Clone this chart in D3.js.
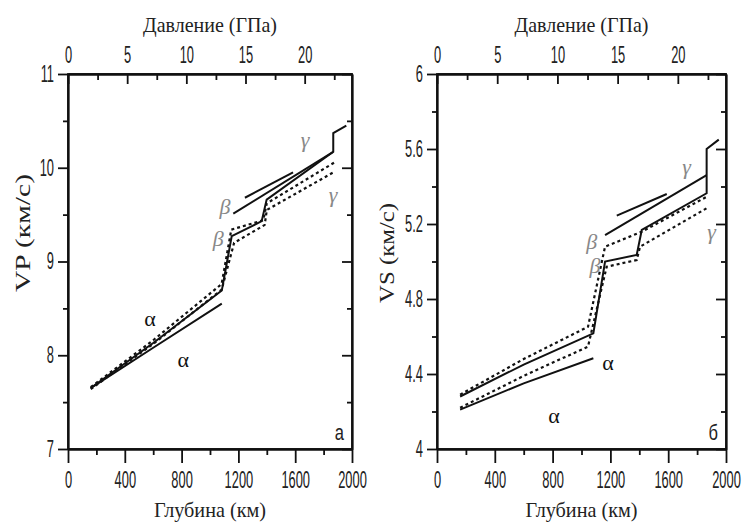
<!DOCTYPE html>
<html>
<head>
<meta charset="utf-8">
<script src="https://cdn.jsdelivr.net/npm/d3@7"></script>
<style>
  body { margin: 0; background: #fff; }
  .tick text { font-family: "Liberation Sans", Arial, sans-serif; font-size: 23px; fill: #222; }
  .axis path, .axis line { stroke: #111; stroke-width: 1.8; }
  .title { font-family: "Liberation Serif", serif; font-size: 21px; fill: #222; }
  .greek { font-family: "Liberation Serif", serif; font-size: 22px; }
</style>
</head>
<body>
<svg id="chart" width="745" height="526"></svg>
<script>
// tick values
const depthTicks = [0, 400, 800, 1200, 1600, 2000];
const depthMinor = [200, 600, 1000, 1400, 1800];
const pressureTicks = [0, 5, 10, 15, 20];
const pressureMinor = [2.5, 7.5, 12.5, 17.5, 22.5];
const vpTicks = [7, 8, 9, 10, 11];
const vpMinor = [7.5, 8.5, 9.5, 10.5];
const vsTicks = [4, 4.4, 4.8, 5.2, 5.6, 6];
const vsMinor = [4.2, 4.6, 5.0, 5.4, 5.8];

// panel a : Vp, [depth km, km/s]
const vpMain = [[160,7.65],[600,8.13],[1083,8.69],[1153,9.27],[1364,9.43],[1399,9.66],[1868,10.17],[1868,10.37],[1960,10.45]];
const vpAlphaLow = [[160,7.65],[600,8.08],[1083,8.55]];
const vpDotUp = [[160,7.66],[600,8.16],[1082,8.76],[1150,9.34],[1375,9.44],[1400,9.62],[1880,10.06]];
const vpDotLow = [[160,7.64],[600,8.12],[1082,8.70],[1170,9.20],[1385,9.39],[1400,9.55],[1880,9.96]];
const vpBetaLong = [[1164,9.51],[1868,10.17]];
const vpBetaShort = [[1246,9.68],[1585,9.95]];

// panel б : Vs
const vsMain = [[160,4.28],[600,4.45],[1082,4.617],[1163,5.0],[1382,5.035],[1417,5.168],[1866,5.364],[1866,5.6],[1950,5.65]];
const vsAlphaLow = [[160,4.21],[600,4.35],[1082,4.484]];
const vsDotUp = [[160,4.29],[600,4.48],[1045,4.652],[1163,5.079],[1417,5.159],[1866,5.345]];
const vsDotLow = [[160,4.22],[600,4.39],[1045,4.546],[1174,4.972],[1382,5.008],[1405,5.079],[1866,5.284]];
const vsBetaLong = [[1163,5.141],[1866,5.461]];
const vsBetaShort = [[1244,5.245],[1590,5.36]];

// greek labels [depth, value]
const vpLabels = [["α",577,8.39],["α",812,7.95],["β",1106,9.585],["β",1058,9.25],["γ",1669,10.30],["γ",1866,9.71]];
const vsLabels = [["α",1183,4.46],["α",810,4.18],["β",1071,5.105],["β",1093,4.98],["γ",1728,5.506],["γ",1901,5.159]];

const svg = d3.select("#chart");
const narrow = 0.56;

function squeeze(sel, x){
    sel.selectAll("text").attr("transform",`scale(${narrow},1)`);
    if(x != undefined) sel.selectAll("text").attr("x", x/narrow);
}

function drawPanel(cfg){
    const x = d3.scaleLinear().domain([0,2000]).range([cfg.x0, cfg.x1]);
    const xp = d3.scaleLinear().domain([0,24]).range([cfg.x0, cfg.x1]);
    const y = d3.scaleLinear().domain(cfg.yDomain).range([449, 74]);
    const g = svg.append("g");

    // bottom depth axis
    g.append("g").attr("class","axis").attr("transform",`translate(0,449)`)
        .call(d3.axisBottom(x).tickValues(depthTicks).tickSize(14).tickSizeOuter(0).tickPadding(9).tickFormat(d3.format("d")))
        .call(squeeze);
    g.append("g").attr("class","axis").attr("transform",`translate(0,449)`)
        .call(d3.axisBottom(x).tickValues(depthMinor).tickSize(6).tickSizeOuter(0).tickFormat(""));

    // top pressure axis, ticks inside
    g.append("g").attr("class","axis").attr("transform",`translate(0,74)`)
        .call(d3.axisTop(xp).tickValues(pressureTicks).tickSize(-10).tickSizeOuter(0).tickPadding(11))
        .call(squeeze);
    g.append("g").attr("class","axis").attr("transform",`translate(0,74)`)
        .call(d3.axisTop(xp).tickValues(pressureMinor).tickSize(-6).tickSizeOuter(0).tickFormat(""));

    // left velocity axis
    g.append("g").attr("class","axis").attr("transform",`translate(${cfg.x0},0)`)
        .call(d3.axisLeft(y).tickValues(cfg.ticks).tickSize(10).tickSizeOuter(0).tickFormat(d3.format("~g")))
        .call(squeeze, -14);
    g.append("g").attr("class","axis").attr("transform",`translate(${cfg.x0},0)`)
        .call(d3.axisLeft(y).tickValues(cfg.minor).tickSize(5).tickSizeOuter(0).tickFormat(""));

    // right side ticks, inside
    g.append("g").attr("class","axis").attr("transform",`translate(${cfg.x1},0)`)
        .call(d3.axisLeft(y).tickValues(cfg.ticks).tickSize(10).tickSizeOuter(0).tickFormat(""));
    g.append("g").attr("class","axis").attr("transform",`translate(${cfg.x1},0)`)
        .call(d3.axisLeft(y).tickValues(cfg.minor).tickSize(5).tickSizeOuter(0).tickFormat(""));

    // titles
    g.append("text").attr("class","title").attr("text-anchor","middle")
        .attr("x",(cfg.x0+cfg.x1)/2).attr("y",32)
        .attr("textLength",134).attr("lengthAdjust","spacingAndGlyphs")
        .text("Давление (ГПа)");
    g.append("text").attr("class","title").attr("text-anchor","middle")
        .attr("x",(cfg.x0+cfg.x1)/2).attr("y",517)
        .attr("textLength",112).attr("lengthAdjust","spacingAndGlyphs")
        .text("Глубина (км)");
    g.append("text").attr("class","title").attr("text-anchor","middle")
        .attr("transform",`translate(${cfg.yTitleX},${cfg.yTitleY}) rotate(-90)`)
        .attr("textLength",cfg.yTitleLen).attr("lengthAdjust","spacingAndGlyphs")
        .text(cfg.yLabel);

    // panel letter
    g.append("text").attr("class","title").attr("text-anchor","end")
        .attr("transform",`translate(${cfg.x1-8},440) scale(0.75,1)`)
        .style("font-family","Liberation Sans").style("font-size","22px")
        .text(cfg.letter);

    const line = d3.line().x(d=>x(d[0])).y(d=>y(d[1]));
    cfg.solid.forEach(s=>{
        g.append("path").attr("d", line(s)).attr("fill","none")
            .attr("stroke","#111").attr("stroke-width",2);
    });
    cfg.dotted.forEach(s=>{
        g.append("path").attr("d", line(s)).attr("fill","none")
            .attr("stroke","#111").attr("stroke-width",2.2).attr("stroke-dasharray","3,3");
    });

    cfg.labels.forEach(l=>{
        g.append("text").attr("class","greek")
            .attr("x",x(l[1])).attr("y",y(l[2]))
            .attr("text-anchor","middle").attr("dominant-baseline","central")
            .style("fill", l[0]=="α" ? "#111" : "#888")
            .style("font-style", l[0]=="α" ? "normal" : "italic")
            .text(l[0]);
    });

    // frame
    g.append("rect").attr("x",cfg.x0).attr("y",74)
        .attr("width",cfg.x1-cfg.x0).attr("height",449-74)
        .attr("fill","none").attr("stroke","#111").attr("stroke-width",1.8);
}

drawPanel({
    x0: 68, x1: 352, yDomain: [7,11], ticks: vpTicks, minor: vpMinor,
    yLabel: "VP (км/с)", yTitleX: 30, yTitleY: 233, yTitleLen: 118, letter: "а",
    solid: [vpMain, vpAlphaLow, vpBetaLong, vpBetaShort],
    dotted: [vpDotUp, vpDotLow],
    labels: vpLabels
});

drawPanel({
    x0: 437, x1: 726, yDomain: [4,6], ticks: vsTicks, minor: vsMinor,
    yLabel: "VS (км/с)", yTitleX: 394, yTitleY: 253, yTitleLen: 100, letter: "б",
    solid: [vsMain, vsAlphaLow, vsBetaLong, vsBetaShort],
    dotted: [vsDotUp, vsDotLow],
    labels: vsLabels
});
</script>
</body>
</html>
